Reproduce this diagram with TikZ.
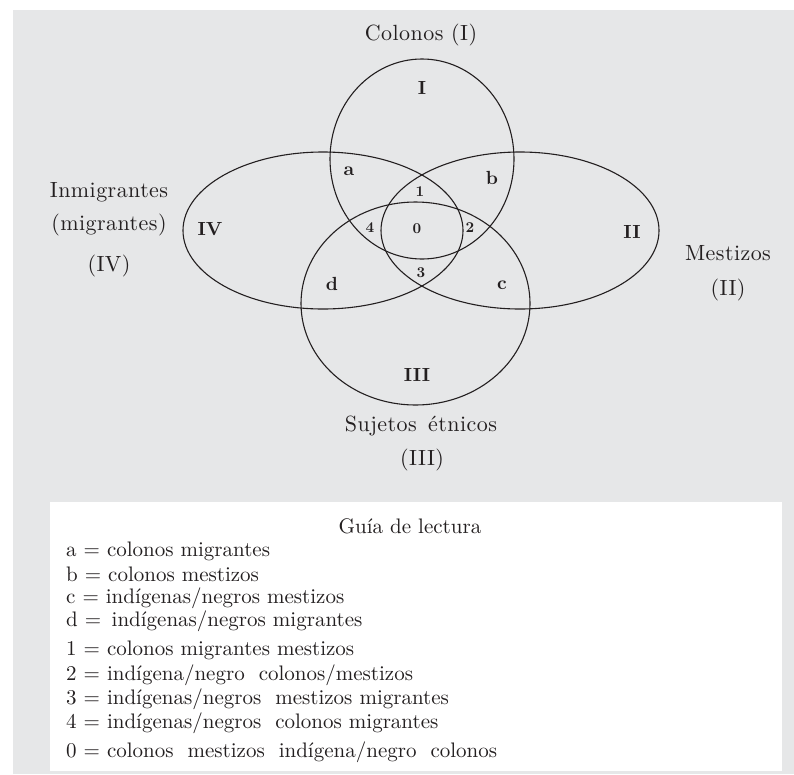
\documentclass[tikz,border=0pt]{standalone}
\usepackage{fontspec}
\setmainfont{lmroman10-regular.otf}[BoldFont=lmroman10-bold.otf]
\definecolor{bg}{RGB}{230,231,232}
\definecolor{txt}{RGB}{35,31,32}
\begin{document}
\begin{tikzpicture}[x=1pt,y=-1pt,
  lab/.style={font=\fontsize{22}{26}\selectfont\addfontfeatures{LetterSpace=2}, text=txt, inner sep=0pt},
  reg/.style={font=\fontsize{19}{22}\selectfont\bfseries, text=txt, inner sep=0pt},
  num/.style={font=\fontsize{15}{18}\selectfont\bfseries, text=txt, inner sep=0pt},
  leg/.style={font=\fontsize{21}{24}\selectfont, text=txt, inner sep=0pt, anchor=west},
  setline/.style={draw=txt, line width=1.1pt}]
\useasboundingbox (0,0) rectangle (794,774);
\fill[bg] (13,10) rectangle (794,774);
\fill[white] (50,502) rectangle (782,771);
% sets
\draw[setline] (422,159) ellipse [x radius=92pt, y radius=100pt];
\draw[setline] (520,230.5) ellipse [x radius=139pt, y radius=78.5pt];
\draw[setline] (415.5,303.5) ellipse [x radius=114.5pt, y radius=101.5pt];
\draw[setline] (323,230.5) ellipse [x radius=140pt, y radius=78.5pt];
% outer labels
\node[lab] (tI) at (421,35) {Colonos (I)};
\node[lab] (tIVa) at (109,192) {Inmigrantes};
\node[lab] (tIVb) at (109,225) {(migrantes)};
\node[lab] (tIVc) at (109,266) {(IV)};
\node[lab] (tIIa) at (728,253) {Mestizos};
\node[lab] (tIIb) at (728,290) {(II)};
\node[lab] (tIIIa) at (421,426) {Sujetos\ \,étnicos};
\node[lab] (tIIIb) at (422,460) {(III)};
% region labels
\node[reg] (rI) at (422,88) {I};
\node[reg] (rII) at (632,232) {II};
\node[reg] (rIII) at (417,375) {III};
\node[reg] (rIV) at (210,229) {IV};
\node[reg] (ra) at (349,171) {a};
\node[reg] (rb) at (492,178) {b};
\node[reg] (rc) at (502,285) {c};
\node[reg] (rd) at (332,284) {d};
\node[num] (n1) at (420,192) {1};
\node[num] (n2) at (470,228) {2};
\node[num] (n3) at (421,273) {3};
\node[num] (n4) at (370,228) {4};
\node[num] (n0) at (417,229) {0};
% legend
\node[text=txt, inner sep=0pt, font=\fontsize{21}{24}\selectfont] (gl) at (410,526) {Guía de lectura};
\node[leg] (la) at (66,551) {a = colonos migrantes};
\node[leg] (lb) at (66,574) {b = colonos mestizos};
\node[leg] (lc) at (66,598) {c = indígenas/negros mestizos};
\node[leg] (ld) at (66,621) {d = \,indígenas/negros migrantes};
\node[leg] (l1) at (66,650) {1 = colonos migrantes mestizos};
\node[leg] (l2) at (66,675) {2 = indígena/negro\ \ colonos/mestizos};
\node[leg] (l3) at (66,699) {3 = indígenas/negros\ \ mestizos migrantes};
\node[leg] (l4) at (66,723) {4 = indígenas/negros\ \ colonos migrantes};
\node[leg] (l0) at (66,752) {0 = colonos\ \ mestizos\ \ indígena/negro\ \ colonos};
\end{tikzpicture}
\end{document}
